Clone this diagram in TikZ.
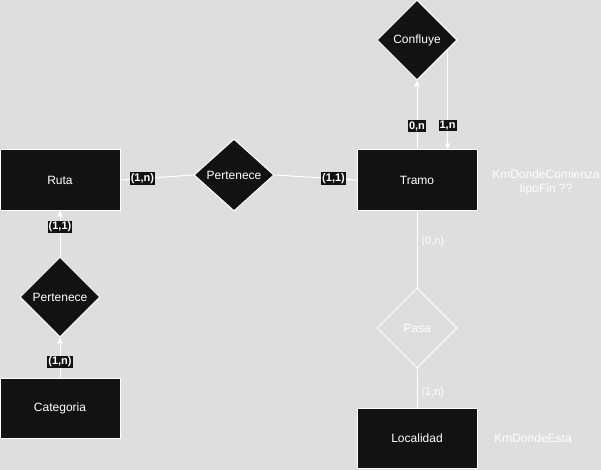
\documentclass[tikz,border=0pt]{standalone}
\usepackage{fontspec}
\setmainfont{Liberation Sans}
\usetikzlibrary{shapes.geometric, arrows.meta}
\definecolor{bgcol}{HTML}{DEDEDE}
\definecolor{ink}{HTML}{121212}

\begin{document}
\begin{tikzpicture}[
    x=1pt, y=-1pt,
    every node/.style={font=\fontsize{12}{14}\selectfont, text=white},
    entity/.style={rectangle, draw=white, line width=1pt, fill=ink, minimum width=120pt, minimum height=60pt},
    rel/.style={diamond, draw=white, line width=1pt, fill=ink, inner sep=0pt, minimum width=80pt, minimum height=80pt},
    weakrel/.style={rel, fill=none},
    link/.style={draw=white, line width=1pt},
    arrow/.style={link, -{Stealth[length=7pt, width=6pt]}},
    card/.style={fill=ink, inner sep=1pt, font=\fontsize{11}{13}\selectfont\bfseries},
    plaincard/.style={inner sep=1pt, anchor=west, xshift=3pt, font=\fontsize{11}{13}\selectfont}
  ]
    \fill[bgcol] (0,0) rectangle (601,470);
    \useasboundingbox (0,0) rectangle (601,470);
    % Entities
    \node[entity] (ruta) at (60,180) {Ruta};
    \node[entity] (tramo) at (417,180) {Tramo};
    \node[entity] (categoria) at (60,408) {Categoria};
    \node[entity] (localidad) at (417,438) {Localidad};
    % Relations
    \node[rel, minimum height=72pt] (pertruta) at (234,175) {Pertenece};
    \node[rel] (confluye) at (417,40) {Confluye};
    \node[rel] (pertcat) at (60,297) {Pertenece};
    \node[weakrel] (pasa) at (417,328) {Pasa};
    % Attributes
    \node[align=center] (atramo) at (546,182) {KmDondeComienza\\tipoFin ??};
    \node (aloc) at (533,438) {KmDondeEsta};
    % Links
    \draw[link] (ruta.east) -- (pertruta.west) node[card, pos=0.3] {(1,n)};
    \draw[link] (pertruta.east) -- (tramo.west) node[card, pos=0.72] {(1,1)};
    \draw[arrow] (tramo.north) -- (confluye.south) node[card, pos=0.34] {0,n};
    \draw[arrow] (confluye.-18.43) -- (confluye.-18.43 |- tramo.north) node[card, pos=0.76] {1,n};
    \draw[arrow] (pertcat.north) -- (ruta.south) node[card, pos=0.64] {(1,1)};
    \draw[arrow] (categoria.north) -- (pertcat.south) node[card, pos=0.39] {(1,n)};
    \draw[link] (tramo.south) -- (pasa.north) node[plaincard, pos=0.4] {(0,n)};
    \draw[link] (pasa.south) -- (localidad.north) node[plaincard, pos=0.62] {(1,n)};
  \end{tikzpicture}
\end{document}
